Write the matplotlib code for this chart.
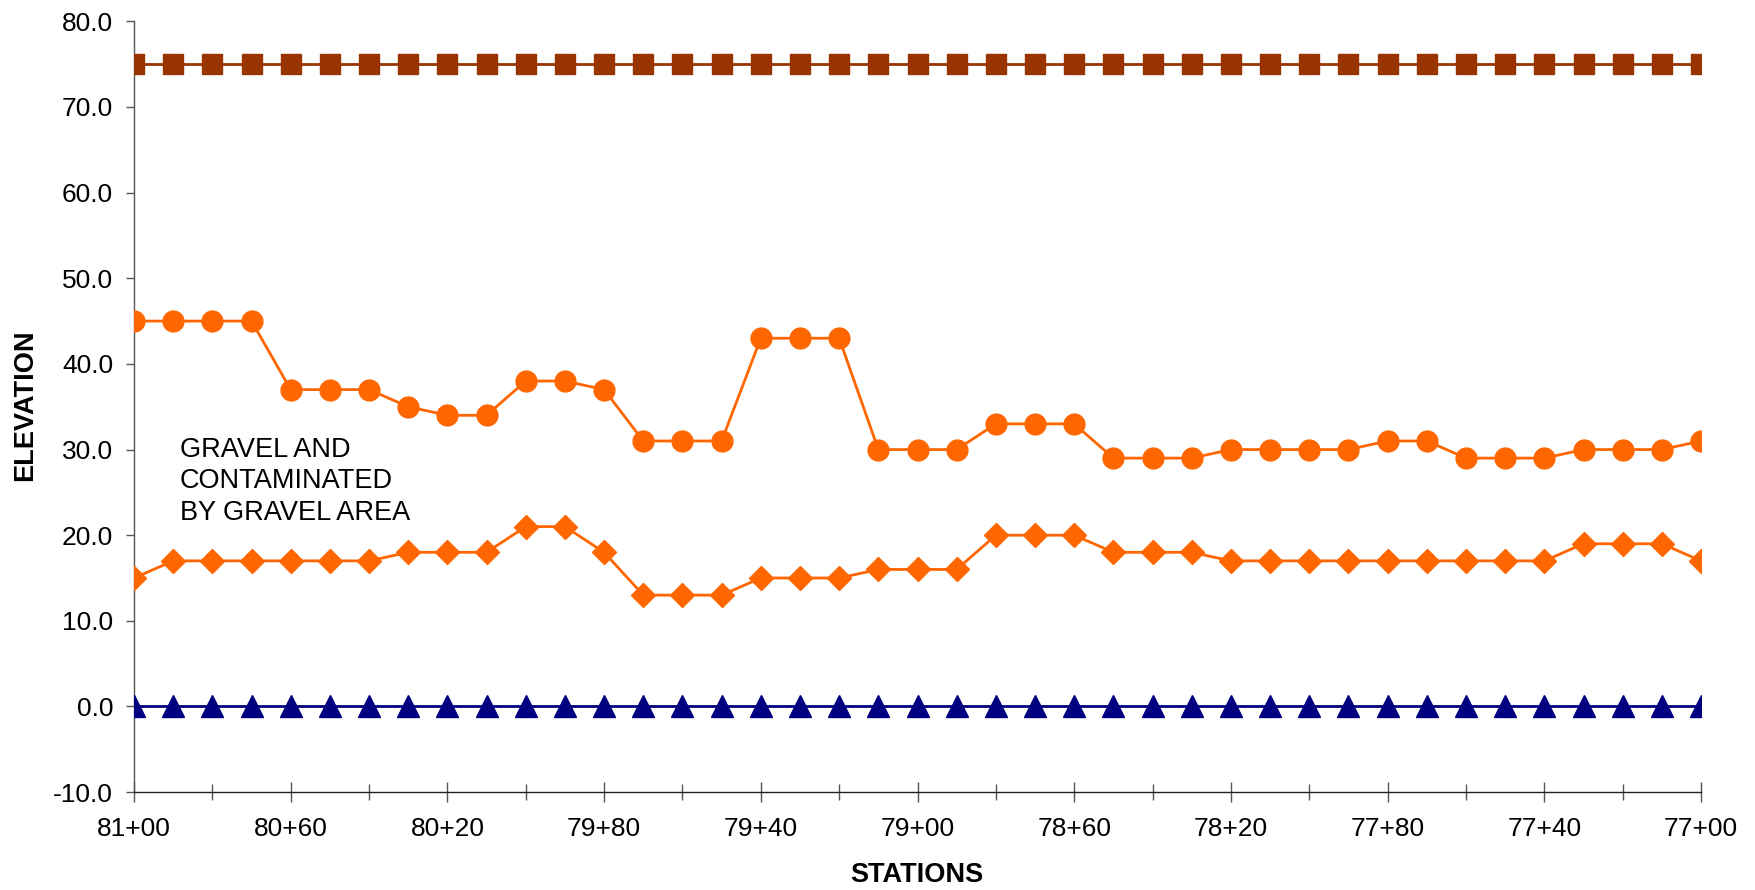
import matplotlib
matplotlib.use("Agg")
import matplotlib.pyplot as plt

# ---- data ----
stations = list(range(8100, 7699, -10))  # 81+00 down to 77+00
upper_limit = [75.0] * len(stations)
gravel_top = [45, 45, 45, 45, 37, 37, 37, 35, 34, 34, 38, 38, 37, 31, 31, 31,
              43, 43, 43, 30, 30, 30, 33, 33, 33, 29, 29, 29, 30, 30, 30, 30,
              31, 31, 29, 29, 29, 30, 30, 30, 31]
gravel_bottom = [15, 17, 17, 17, 17, 17, 17, 18, 18, 18, 21, 21, 18, 13, 13, 13,
                 15, 15, 15, 16, 16, 16, 20, 20, 20, 18, 18, 18, 17, 17, 17, 17,
                 17, 17, 17, 17, 17, 19, 19, 19, 17]
datum = [0.0] * len(stations)
y_ticks = [-10, 0, 10, 20, 30, 40, 50, 60, 70, 80]
annotation = "GRAVEL AND\nCONTAMINATED\nBY GRAVEL AREA"

plt.rcParams['font.family'] = ['Liberation Sans', 'DejaVu Sans']

fig = plt.figure(figsize=(17.56, 8.90), dpi=100)
ax = fig.add_axes([0.0763, 0.110, 0.8924, 0.866])

ax.plot(stations, upper_limit, color='#993300', lw=2, marker='s', ms=15,
        mec='#993300', mfc='#993300', zorder=3)
ax.plot(stations, gravel_top, color='#FF6600', lw=2, marker='o', ms=15,
        mec='#FF6600', mfc='#FF6600', zorder=3)
ax.plot(stations, gravel_bottom, color='#FF6600', lw=2, marker='D', ms=12,
        mec='#FF6600', mfc='#FF6600', zorder=3)
ax.plot(stations, datum, color='#000080', lw=2, marker='^', ms=16,
        mec='#000080', mfc='#000080', zorder=3)

ax.set_xlim(stations[0], stations[-1])
ax.set_ylim(-10, 80)
ax.set_yticks(y_ticks)
ax.set_yticklabels([f"{v:.1f}" for v in y_ticks])

major = stations[::4]
minor = stations[2::4]
ax.set_xticks(major)
ax.set_xticklabels([f"{s // 100}+{s % 100:02d}" for s in major])
ax.set_xticks(minor, minor=True)

for side in ['top', 'right']:
    ax.spines[side].set_visible(False)
ax.spines['left'].set_color('#555555')
ax.spines['bottom'].set_color('#222222')
for side in ['left', 'bottom']:
    ax.spines[side].set_linewidth(1.0)
ax.tick_params(axis='x', which='major', direction='inout', length=14, width=1.0,
               color='#555555', labelsize=19, pad=11)
ax.tick_params(axis='x', which='minor', direction='inout', length=12, width=1.0,
               color='#555555')
ax.tick_params(axis='y', direction='out', length=6, width=1.0, color='#555555',
               labelsize=19, pad=9)

ax.set_xlabel("STATIONS", fontsize=19.5, fontweight='bold')
ax.set_ylabel("ELEVATION", fontsize=19.5, fontweight='bold')
ax.xaxis.label.set_verticalalignment('center')
ax.yaxis.label.set_verticalalignment('center')
ax.xaxis.set_label_coords(0.4997, -0.1076)
ax.yaxis.set_label_coords(-0.0696, 0.502)

ax.text(stations[0] - 11.7, 30.2 + 1.3, annotation, fontsize=19.5, va='top', ha='left',
        linespacing=1.28)

fig.savefig("out.png", dpi=100)
